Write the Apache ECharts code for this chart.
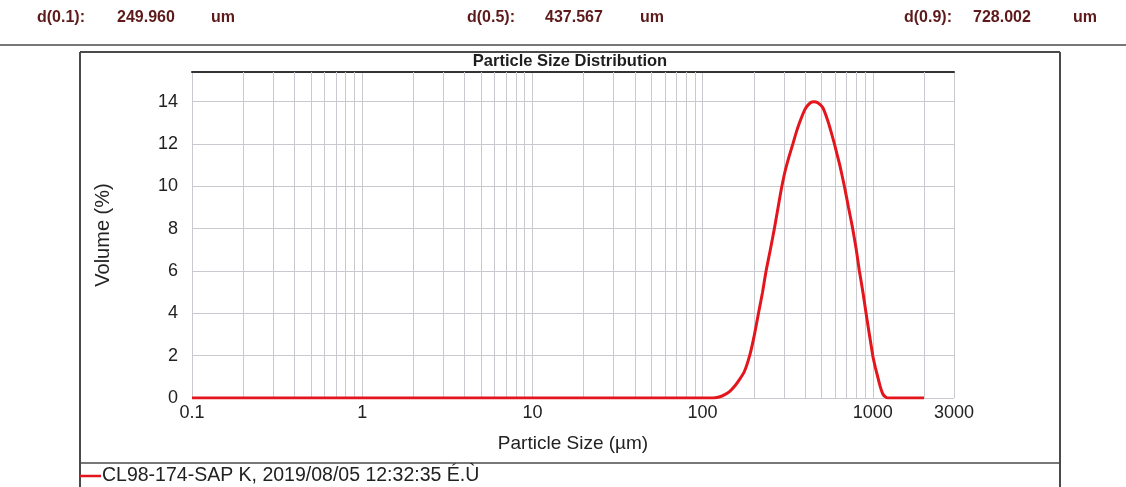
<!DOCTYPE html>
<html>
<head>
<meta charset="utf-8">
<title>Particle Size Distribution</title>
<script src="https://cdn.jsdelivr.net/npm/echarts@6/dist/echarts.min.js"></script>
<style>
  html, body { margin: 0; padding: 0; background: #ffffff; }
  #chart { width: 1126px; height: 487px; }
</style>
</head>
<body>
<div id="chart"></div>
<script>
// Percentile summary shown in the report header
const percentileNames = ['d(0.1):', 'd(0.5):', 'd(0.9):'];
const percentileValues = ['249.960', '437.567', '728.002'];
const percentileUnit = 'um';

// Measured distribution: particle size (µm) and volume fraction (%)
const sizes = [
  0.1, 1, 10, 100, 115, 125, 135, 145, 155, 165, 176, 189, 200, 213, 225, 236,
  250, 264, 277, 289, 305, 322, 339, 355, 371, 390, 405, 430, 450, 475, 508,
  544, 570, 595, 640, 681, 720, 762, 800, 834, 875, 913, 955, 1000, 1035,
  1069, 1105, 1144, 1185, 1224, 1400, 2000
];
const volumes = [
  0, 0, 0, 0, 0, 0.05, 0.16, 0.33, 0.58, 0.88, 1.25, 2.0, 2.85, 4.0, 5.0, 6.0,
  7.0, 8.0, 8.95, 9.8, 10.7, 11.4, 12.0, 12.55, 13.0, 13.45, 13.72, 13.95, 14.0, 13.95, 13.72,
  13.1, 12.55, 12.0, 11.0, 10.0, 9.0, 8.0, 7.0, 6.0, 5.0, 4.0, 3.0, 2.0, 1.45,
  1.0, 0.55, 0.2, 0.05, 0, 0, 0
];

// Intermediate log grid lines inside each decade
const minorGridSizes = [
  0.2, 0.3, 0.4, 0.5, 0.6, 0.7, 0.8, 0.9,
  2, 3, 4, 5, 6, 7, 8, 9,
  20, 30, 40, 50, 60, 70, 80, 90,
  200, 300, 400, 500, 600, 700, 800, 900,
  2000
];

// X axis tick labels (log scale, 0.1 … 3000 µm)
const xTickValues = [0.1, 1, 10, 100, 1000, 3000];
const xTickLabels = ['0.1', '1', '10', '100', '1000', '3000'];

const seriesName = 'CL98-174-SAP K, 2019/08/05 12:32:35 É.Ù';

const FONT = '"Liberation Sans", Arial, Helvetica, sans-serif';
const GRID_COLOR = '#c9c9d0';
const FRAME_COLOR = '#4a4a4a';
const HEADER_COLOR = '#5e1a1a';

const W = 1126, H = 487;

// Header text: label / value / unit for each percentile
const headerX = [
  [37, 117, 211],
  [467, 545, 640],
  [904, 973, 1073]
];
const headerGraphics = [];
percentileNames.forEach((name, i) => {
  [name, percentileValues[i], percentileUnit].forEach((txt, j) => {
    headerGraphics.push({
      type: 'text',
      x: headerX[i][j],
      y: 18,
      style: {
        text: txt,
        fill: HEADER_COLOR,
        font: 'bold 16px ' + FONT,
        textVerticalAlign: 'middle'
      }
    });
  });
});

// Report frame lines
const boxL = 80, boxR = 1060, boxT = 52, legendSep = 463;
function frameLine(x1, y1, x2, y2, w) {
  return {
    type: 'line',
    shape: { x1, y1, x2, y2 },
    style: { stroke: FRAME_COLOR, lineWidth: w },
    silent: true
  };
}

const chart = echarts.init(document.getElementById('chart'), null, { renderer: 'canvas' });

const option = {
  animation: false,
  backgroundColor: '#ffffff',
  textStyle: { fontFamily: FONT },
  grid: {
    left: 192,
    right: 172,
    top: 72,
    bottom: 89,
    containLabel: false,
    outerBoundsMode: 'none'
  },
  legend: {
    show: true,
    data: [seriesName],
    left: boxL,
    top: 465,
    icon: 'rect',
    itemWidth: 21,
    itemHeight: 2.5,
    itemGap: 10,
    padding: 0,
    selectedMode: false,
    textStyle: {
      fontFamily: FONT,
      fontSize: 19.5,
      color: '#222222',
      padding: [0, 0, 0, -4],
      lineHeight: 22
    }
  },
  xAxis: [
    {
      type: 'log',
      logBase: 10,
      min: 0.1,
      max: 3000,
      name: 'Particle Size (µm)',
      nameLocation: 'middle',
      nameGap: 36,
      nameTextStyle: { fontFamily: FONT, fontSize: 19, color: '#222222' },
      axisLine: { show: false },
      axisTick: { show: false },
      axisLabel: {
        fontFamily: FONT,
        fontSize: 18,
        color: '#222222',
        margin: 6,
        showMinLabel: true,
        showMaxLabel: true,
        hideOverlap: false,
        formatter: function (v) {
          for (let i = 0; i < xTickValues.length; i++) {
            if (Math.abs(Math.log10(v) - Math.log10(xTickValues[i])) < 1e-6) {
              return xTickLabels[i];
            }
          }
          return '';
        }
      },
      splitLine: { show: true, lineStyle: { color: GRID_COLOR, width: 1 } }
    },
    {
      // Heavy rule along the top of the plot area
      type: 'log',
      logBase: 10,
      min: 0.1,
      max: 3000,
      position: 'top',
      axisLine: { show: true, lineStyle: { color: '#333333', width: 2 } },
      axisTick: { show: false },
      axisLabel: { show: false },
      splitLine: { show: false }
    }
  ],
  yAxis: {
    type: 'value',
    min: 0,
    max: 15.4,
    interval: 2,
    name: 'Volume (%)',
    nameLocation: 'middle',
    nameGap: 79,
    nameTextStyle: { fontFamily: FONT, fontSize: 20, color: '#222222' },
    axisLine: { show: false },
    axisTick: { show: false },
    axisLabel: {
      fontFamily: FONT,
      fontSize: 18,
      color: '#222222',
      margin: 14,
      showMaxLabel: false
    },
    splitLine: { show: true, lineStyle: { color: GRID_COLOR, width: 1 } }
  },
  series: [
    {
      // Carries the intermediate vertical grid lines
      name: 'grid',
      type: 'line',
      data: [],
      z: 1,
      silent: true,
      markLine: {
        silent: true,
        symbol: ['none', 'none'],
        label: { show: false },
        lineStyle: { color: GRID_COLOR, type: 'solid', width: 1 },
        emphasis: { disabled: true },
        data: minorGridSizes.map(v => ({ xAxis: v }))
      }
    },
    {
      name: seriesName,
      type: 'line',
      z: 5,
      data: sizes.map((s, i) => [s, volumes[i]]),
      showSymbol: false,
      symbol: 'none',
      smooth: 0.15,
      lineStyle: { color: '#e3161d', width: 3 },
      itemStyle: { color: '#e3161d' }
    }
  ],
  graphic: [
    ...headerGraphics,
    frameLine(0, 45, W, 45, 1.5),
    frameLine(boxL, boxT, boxR, boxT, 2),
    frameLine(boxL, boxT, boxL, H, 2),
    frameLine(boxR, boxT, boxR, H, 2),
    frameLine(boxL, legendSep, boxR, legendSep, 1.5),
    {
      type: 'text',
      x: 570,
      y: 61,
      style: {
        text: 'Particle Size Distribution',
        fill: '#1e1e1e',
        font: 'bold 16.5px ' + FONT,
        textAlign: 'center',
        textVerticalAlign: 'middle'
      }
    }
  ]
};

chart.setOption(option);
</script>
</body>
</html>
